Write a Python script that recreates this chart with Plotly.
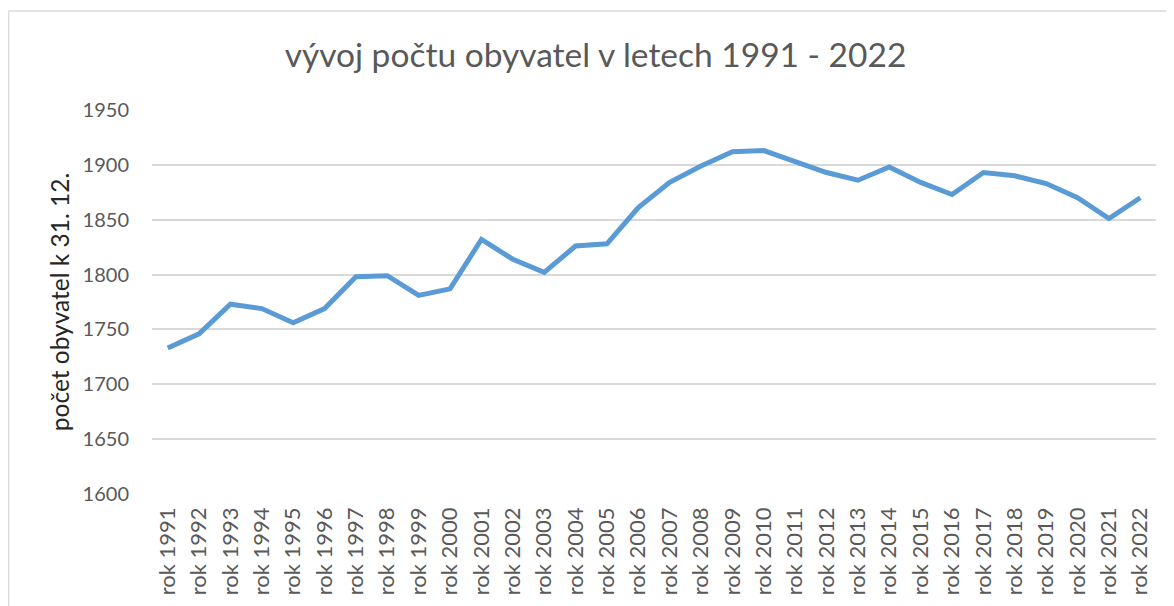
import plotly.graph_objects as go

years = [str(y) for y in range(1991, 2023)]
categories = ["rok " + y for y in years]
population = [1733, 1746, 1773, 1769, 1756, 1769, 1798, 1799, 1781, 1787,
              1832, 1814, 1802, 1826, 1828, 1861, 1884, 1899, 1912, 1913,
              1903, 1893, 1886, 1898, 1884, 1873, 1893, 1890, 1883, 1870,
              1851, 1870]
y_ticks = [1600, 1650, 1700, 1750, 1800, 1850, 1900, 1950]

# page body has an 8px margin, so figure coords = page coords - 8
W, H = 1166, 598
ML, MR, MT, MB = 144, 18, 102, 112
pw = W - ML - MR
ph = H - MT - MB

FONT = "Lato, Open Sans, sans-serif"
GREY = "#595959"

fig = go.Figure()
fig.add_trace(go.Scatter(
    x=categories, y=population, mode="lines",
    line=dict(color="#5B9BD5", width=5),
    hoverinfo="x+y", showlegend=False,
))

fig.update_layout(
    width=W, height=H,
    margin=dict(l=ML, r=MR, t=MT, b=MB),
    paper_bgcolor="white", plot_bgcolor="white",
    title=dict(text="vývoj počtu obyvatel v letech 1991 - 2022",
               x=(587.5 - ML) / pw, xref="paper", xanchor="center",
               y=1 - 47 / H, yanchor="middle",
               font=dict(family=FONT, size=33.5, color=GREY)),
    xaxis=dict(
        type="category", tickangle=-90,
        range=[-0.5, len(categories) - 0.5],
        tickfont=dict(family=FONT, size=22, color=GREY),
        showgrid=False, showline=False, zeroline=False,
        ticks="", ticklen=0, ticklabelstandoff=8,
    ),
    yaxis=dict(
        range=[1600, 1950], tickvals=y_ticks,
        tickfont=dict(family=FONT, size=20, color=GREY),
        showgrid=True, gridcolor="#D9D9D9", gridwidth=1.5,
        zeroline=False, showline=False, ticks="",
        ticklabelstandoff=22,
        title=dict(text="počet obyvatel k 31. 12.",
                   font=dict(family=FONT, size=24.5, color="#262626"),
                   standoff=6),
    ),
)

# outer chart border (left and top edges visible)
x_left = (0.5 - ML) / pw
y_top = 1 + (MT - 3) / ph
fig.add_shape(type="line", xref="paper", yref="paper",
              x0=x_left, x1=x_left, y0=y_top, y1=-MB / ph - 0.05,
              line=dict(color="#D9D9D9", width=1.5))
fig.add_shape(type="line", xref="paper", yref="paper",
              x0=x_left, x1=1 + MR / pw + 0.05, y0=y_top, y1=y_top,
              line=dict(color="#D9D9D9", width=1.5))

fig.write_html("out.html")
